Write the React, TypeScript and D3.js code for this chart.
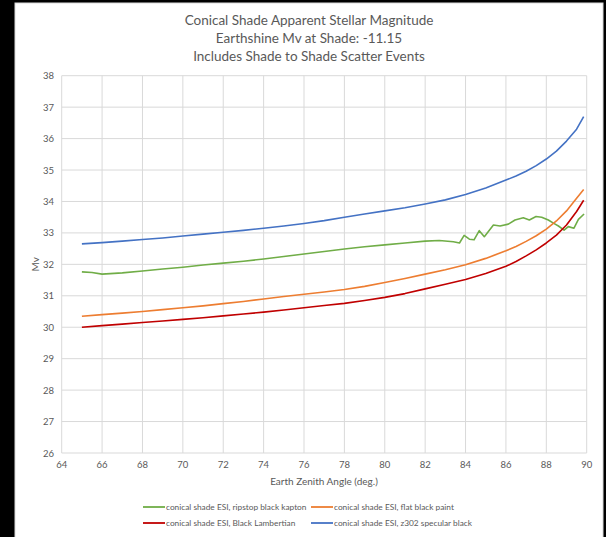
import React from "react";
import * as d3 from "d3";

const titleLines = [
  "Conical Shade Apparent Stellar Magnitude",
  "Earthshine Mv at Shade: -11.15",
  "Includes Shade to Shade Scatter Events",
];
const xTicks = [64, 66, 68, 70, 72, 74, 76, 78, 80, 82, 84, 86, 88, 90];
const yTicks = [26, 27, 28, 29, 30, 31, 32, 33, 34, 35, 36, 37, 38];

const greenX = [65, 65.5, 66, 67, 68, 69, 70, 71, 72, 73, 74, 75, 76, 77, 78, 79, 80, 81, 82, 82.7, 83.4, 83.7, 83.93, 84.19, 84.42, 84.68, 84.93, 85.38, 85.71, 86.12, 86.45, 86.86, 87.16, 87.49, 87.77, 88.1, 88.35, 88.6, 88.88, 89.09, 89.37, 89.59, 89.87];
const greenY = [31.76, 31.74, 31.69, 31.73, 31.79, 31.85, 31.91, 31.98, 32.04, 32.1, 32.17, 32.25, 32.33, 32.41, 32.49, 32.56, 32.62, 32.68, 32.74, 32.76, 32.72, 32.68, 32.92, 32.8, 32.78, 33.07, 32.88, 33.25, 33.22, 33.28, 33.41, 33.48, 33.41, 33.52, 33.5, 33.41, 33.31, 33.22, 33.09, 33.2, 33.15, 33.43, 33.6];

const smoothX = [65, 66, 67, 68, 69, 70, 71, 72, 73, 74, 75, 76, 77, 78, 79, 80, 81, 82, 83, 84, 85, 86, 86.5, 87, 87.5, 88, 88.5, 89, 89.5, 89.85];
const orangeY = [30.35, 30.4, 30.45, 30.5, 30.56, 30.62, 30.68, 30.75, 30.82, 30.9, 30.98, 31.05, 31.12, 31.2, 31.3, 31.42, 31.55, 31.69, 31.83, 31.99, 32.19, 32.43, 32.57, 32.73, 32.91, 33.12, 33.38, 33.7, 34.1, 34.38];
const redY = [30.0, 30.05, 30.1, 30.15, 30.2, 30.25, 30.3, 30.36, 30.42, 30.48, 30.55, 30.62, 30.69, 30.76, 30.85, 30.95, 31.07, 31.22, 31.37, 31.52, 31.71, 31.94, 32.09, 32.27, 32.46, 32.68, 32.93, 33.25, 33.68, 34.04];
const blueY = [32.65, 32.69, 32.74, 32.79, 32.84, 32.9, 32.96, 33.02, 33.08, 33.15, 33.22, 33.3, 33.39, 33.5, 33.6, 33.7, 33.8, 33.92, 34.05, 34.22, 34.43, 34.68, 34.81, 34.96, 35.14, 35.35, 35.6, 35.92, 36.3, 36.7];

const seriesNames = [
  "conical shade ESI, ripstop black kapton",
  "conical shade ESI, flat black paint",
  "conical shade ESI, Black Lambertian",
  "conical shade ESI, z302 specular black",
];
const seriesColors = ["#70AD47", "#ED7D31", "#C00000", "#4472C4"];

const FONT = "Lato, 'Open Sans', 'Liberation Sans', sans-serif";

export default function App() {
  const W = 606, H = 537;
  const x = d3.scaleLinear().domain([64, 90]).range([61.7, 586.7]);
  const y = d3.scaleLinear().domain([26, 38]).range([453, 75.7]);
  const line = d3.line<[number, number]>().x((d) => x(d[0])).y((d) => y(d[1]));
  const series = [
    greenX.map((v, i) => [v, greenY[i]] as [number, number]),
    smoothX.map((v, i) => [v, orangeY[i]] as [number, number]),
    smoothX.map((v, i) => [v, redY[i]] as [number, number]),
    smoothX.map((v, i) => [v, blueY[i]] as [number, number]),
  ];
  const drawOrder = [3, 0, 1, 2];
  const legendPos = [
    { lx: 143, ty: 507 },
    { lx: 311, ty: 507 },
    { lx: 143, ty: 523 },
    { lx: 311, ty: 523 },
  ];
  return (
    <svg width={W} height={H} style={{ position: "fixed", left: 0, top: 0 }} fontFamily={FONT}>
      <rect x={0} y={0} width={W} height={H} fill="#000" />
      <rect x={15} y={3} width={588} height={540} fill="#fff" stroke="#d9d9d9" strokeWidth={1} />
      {titleLines.map((t, i) => (
        <text key={t} x={309} y={25 + i * 18} textAnchor="middle" fontSize={13.5} fill="#595959">
          {t}
        </text>
      ))}
      {yTicks.map((t) => (
        <g key={"y" + t}>
          <line x1={x(64)} x2={x(90)} y1={y(t)} y2={y(t)} stroke="#d9d9d9" strokeWidth={1} />
          <text x={54} y={y(t) + 3.5} textAnchor="end" fontSize={9.5} fill="#595959">
            {t}
          </text>
        </g>
      ))}
      {xTicks.map((t) => (
        <g key={"x" + t}>
          <line x1={x(t)} x2={x(t)} y1={y(26)} y2={y(38)} stroke="#d9d9d9" strokeWidth={1} />
          <text x={x(t)} y={468} textAnchor="middle" fontSize={9.5} fill="#595959">
            {t}
          </text>
        </g>
      ))}
      <text x={324} y={485} textAnchor="middle" fontSize={10} fill="#595959">
        Earth Zenith Angle (deg.)
      </text>
      <text transform={`translate(39,${y(32)}) rotate(-90)`} textAnchor="middle" fontSize={10} fill="#595959">
        Mv
      </text>
      {drawOrder.map((i) => (
        <path key={"s" + i} d={line(series[i]) || ""} fill="none" stroke={seriesColors[i]} strokeWidth={1.6} strokeLinejoin="round" />
      ))}
      {seriesNames.map((n, i) => (
        <g key={n}>
          <line x1={legendPos[i].lx} x2={legendPos[i].lx + 22} y1={legendPos[i].ty} y2={legendPos[i].ty} stroke={seriesColors[i]} strokeWidth={1.8} />
          <text x={legendPos[i].lx + 23} y={legendPos[i].ty + 3} fontSize={8.3} fill="#595959">
            {n}
          </text>
        </g>
      ))}
    </svg>
  );
}
